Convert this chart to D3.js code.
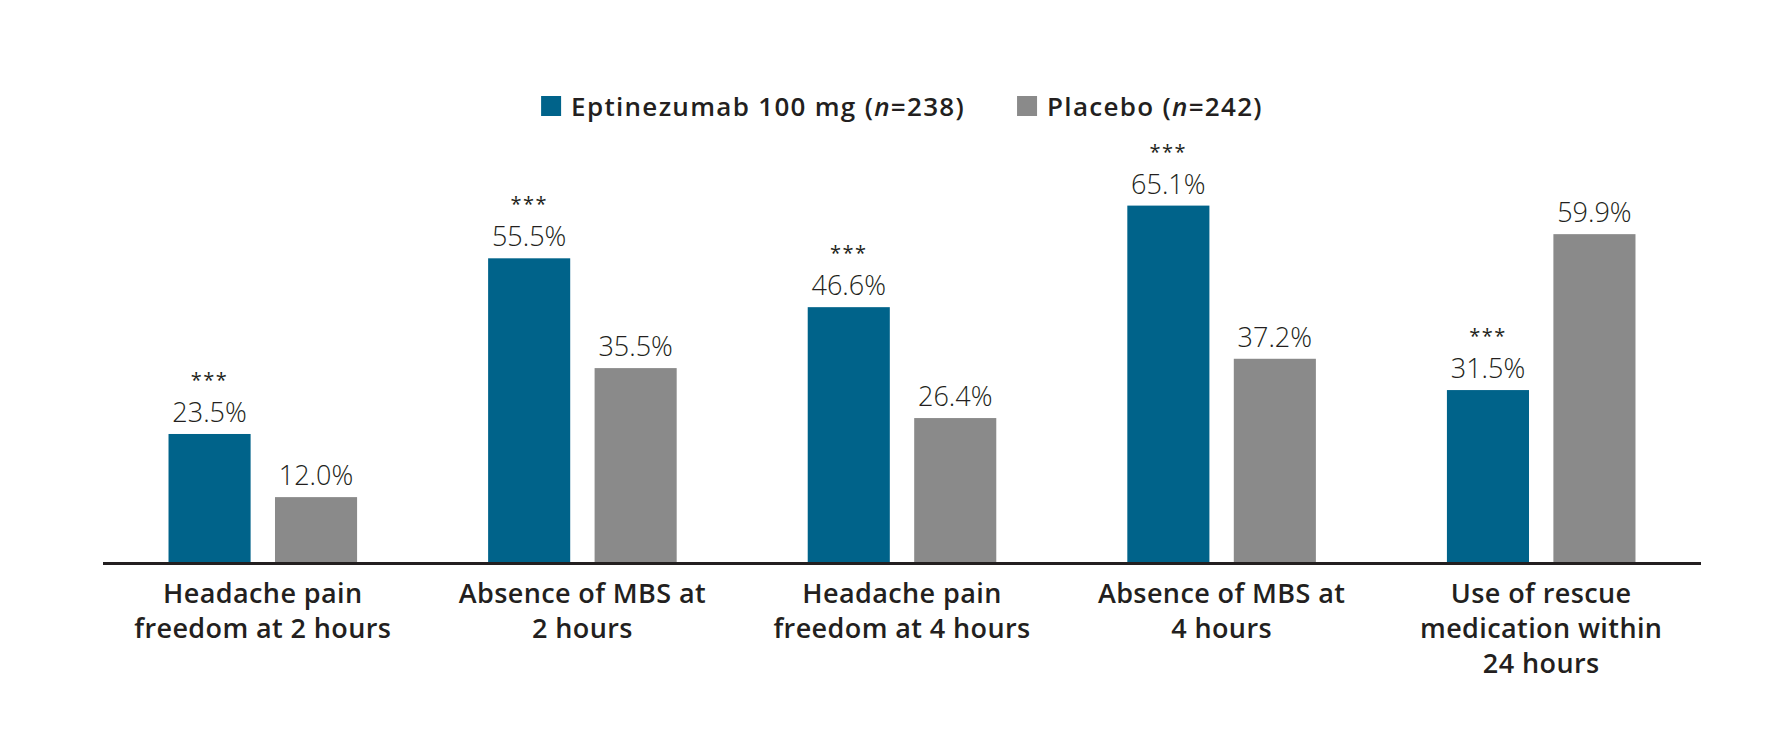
<!DOCTYPE html>
<html>
<head>
<meta charset="utf-8">
<script src="https://cdn.jsdelivr.net/npm/d3@7"></script>
<style>
  html, body { margin: 0; padding: 0; background: #fff; }
  svg { display: block; font-family: "Open Sans", "DejaVu Sans", sans-serif; }
</style>
</head>
<body>
<svg width="1772" height="747"></svg>
<script>
var categories = [
  ["Headache pain", "freedom at 2 hours"],
  ["Absence of MBS at", "2 hours"],
  ["Headache pain", "freedom at 4 hours"],
  ["Absence of MBS at", "4 hours"],
  ["Use of rescue", "medication within", "24 hours"]
];
var seriesNames = ["Eptinezumab 100 mg", "Placebo"];
var seriesN = ["238", "242"];
var eptinezumab = [23.5, 55.5, 46.6, 65.1, 31.5];
var placebo = [12.0, 35.5, 26.4, 37.2, 59.9];
var significance = ["***", "***", "***", "***", "***"];

var colors = ["#00638a", "#8a8a8a"];
var textColor = "#231f20";

var svg = d3.select("svg"),
  width = +svg.attr("width"),
  height = +svg.attr("height");

svg.append("rect").attr("width", width).attr("height", height).attr("fill", "#fff");

var left = 103, right = 1701, baseY = 563;

var x0 = d3.scaleBand()
  .domain(d3.range(categories.length))
  .range([left, right])
  .paddingInner(0.41)
  .paddingOuter(0.205);

var x1 = d3.scaleBand()
  .domain([0, 1])
  .range([0, x0.bandwidth()])
  .paddingInner(0.229);

var y = d3.scaleLinear()
  .domain([0, 100])
  .range([baseY, baseY - 549]);

var rows = categories.map(function(c, i) {
  return { i: i, values: [eptinezumab[i], placebo[i]], sig: significance[i] };
});

var group = svg.append("g").attr("class", "bars")
  .selectAll("g")
  .data(rows)
  .enter().append("g")
  .attr("transform", function(d) { return "translate(" + x0(d.i) + ",0)"; });

group.selectAll("rect")
  .data(function(d) { return d.values.map(function(v, k) { return { v: v, k: k }; }); })
  .enter().append("rect")
  .attr("x", function(d) { return x1(d.k); })
  .attr("y", function(d) { return y(d.v); })
  .attr("width", x1.bandwidth())
  .attr("height", function(d) { return baseY - y(d.v); })
  .attr("fill", function(d) { return colors[d.k]; });

// value labels
group.selectAll("text.val")
  .data(function(d) { return d.values.map(function(v, k) { return { v: v, k: k }; }); })
  .enter().append("text")
  .attr("class", "val")
  .attr("x", function(d) { return x1(d.k) + x1.bandwidth() / 2; })
  .attr("y", function(d) { return y(d.v) - 12; })
  .attr("text-anchor", "middle")
  .attr("fill", textColor)
  .style("font-size", "27px")
  .style("font-weight", 300)
  .text(function(d) { return d.v.toFixed(1) + "%"; });

// significance stars over the eptinezumab bar
group.append("text")
  .attr("x", x1(0) + x1.bandwidth() / 2)
  .attr("y", function(d) { return y(d.values[0]) - 47; })
  .attr("text-anchor", "middle")
  .attr("fill", textColor)
  .style("font-size", "20px")
  .style("font-weight", 400)
  .style("letter-spacing", "1.5px")
  .text(function(d) { return d.sig; });

// baseline
svg.append("line")
  .attr("x1", left).attr("x2", right)
  .attr("y1", baseY + 0.5).attr("y2", baseY + 0.5)
  .attr("stroke", textColor)
  .attr("stroke-width", 3);

// category labels
var cat = svg.append("g").attr("class", "cats")
  .selectAll("text")
  .data(categories)
  .enter().append("text")
  .attr("text-anchor", "middle")
  .attr("fill", textColor)
  .style("font-size", "27px")
  .style("font-weight", 600)
  .style("letter-spacing", "0.4px")
  .attr("transform", function(d, i) { return "translate(" + (x0(i) + x0.bandwidth() / 2) + ",0)"; });

cat.selectAll("tspan")
  .data(function(d) { return d; })
  .enter().append("tspan")
  .attr("x", 0)
  .attr("y", function(d, j) { return 603 + j * 35; })
  .text(function(d) { return d; });

// legend
var legend = svg.append("g").attr("class", "legend");
var items = legend.selectAll("g")
  .data(seriesNames)
  .enter().append("g");

items.append("rect")
  .attr("width", 20).attr("height", 20)
  .attr("y", 96)
  .attr("fill", function(d, i) { return colors[i]; });

var ltext = items.append("text")
  .attr("x", 30)
  .attr("y", 116)
  .attr("fill", textColor)
  .style("font-size", "26px")
  .style("font-weight", 600)
  .style("letter-spacing", "1.3px");
ltext.append("tspan").text(function(d) { return d + " ("; });
ltext.append("tspan").style("font-style", "italic").text("n");
ltext.append("tspan").text(function(d, i) { return "=" + seriesN[i] + ")"; });

var widths = [];
ltext.each(function() { widths.push(30 + this.getComputedTextLength()); });
var gap = 52;
var total = d3.sum(widths) + gap;
var startX = (left + right) / 2 - total / 2;
items.attr("transform", function(d, i) {
  var off = startX + (i === 0 ? 0 : widths[0] + gap);
  return "translate(" + off + ",0)";
});
</script>
</body>
</html>
